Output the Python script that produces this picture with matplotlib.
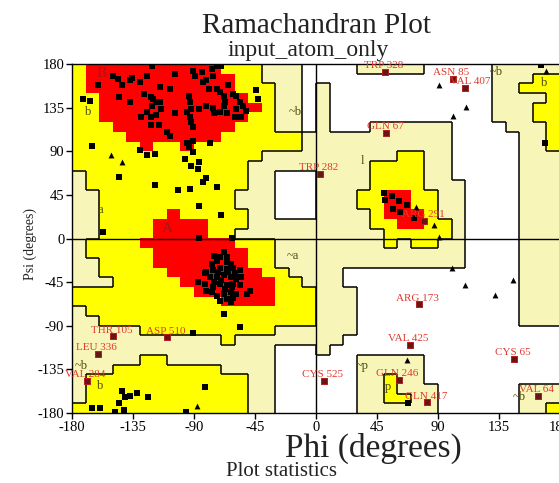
import numpy as np
import matplotlib.pyplot as plt
from matplotlib.collections import LineCollection

plt.rcParams['font.family'] = ['Liberation Serif', 'DejaVu Serif']
plt.rcParams['axes.unicode_minus'] = False

# region map in 10 degree cells, rows from psi 180 down to -180,
# columns from phi -180 to 180, run-length coded
# R core, Y allowed, G generously allowed, W disallowed
region_rows = [
    "Y1 R10 Y3 G3 W4 G5 W5 G5",
    "Y1 R11 Y2 G3 W14 G3 Y2",
    "Y1 R11 Y3 G2 W1 G1 W12 G2 Y3",
    "Y2 R11 Y2 G2 W1 G1 W12 G4 Y1",
    "Y2 R12 Y1 G2 W1 G1 W12 G3 Y2",
    "Y2 R11 Y2 G2 W1 G1 W12 G3 Y2",
    "Y3 R9 Y3 G2 W1 G1 W3 G6 W4 G3 Y1",
    "Y4 R7 Y6 G11 W5 G2 Y1",
    "Y5 R1 Y2 R1 Y8 G11 W5 G2 Y1",
    "Y14 G10 Y2 G2 W5 G3",
    "Y13 G9 Y4 G2 W5 G3",
    "G1 Y12 G2 W3 G4 Y4 G2 W5 G3",
    "G1 Y12 G2 W3 G4 Y4 G3 W4 G3",
    "G2 Y10 G3 W3 G3 Y2 R2 Y2 G2 W4 G3",
    "G2 Y10 G3 W3 G3 Y2 R2 Y2 G2 W4 G3",
    "G2 Y5 R1 Y5 G2 W3 G4 Y1 R3 Y1 G2 W4 G3",
    "G2 Y4 R4 Y3 G9 Y2 R2 Y2 G1 W4 G3",
    "G2 Y4 R4 Y2 G11 Y5 G1 W4 G3",
    "G1 Y4 R7 Y3 G8 Y1 G1 Y2 G2 W4 G3",
    "G1 Y5 R7 Y2 G14 W4 G3",
    "G2 Y4 R7 Y2 G14 W4 G3",
    "G2 Y5 R7 Y2 G4 W13 G3",
    "G3 Y5 R7 Y2 G3 W13 G3",
    "Y9 R6 Y3 G3 W12 G3",
    "Y11 R4 Y3 G3 W12 G3",
    "G1 Y17 G3 W12 G3",
    "G2 Y16 G3 W12 G3",
    "G5 Y10 G6 W15",
    "G11 Y1 G8 W16",
    "G15 W3 G1 W17",
    "G5 Y2 G8 W6 G5 W10",
    "G3 Y8 G4 W6 G5 W10",
    "G1 Y12 G2 W6 G2 Y1 G2 W10",
    "G1 Y12 G2 W6 G2 Y1 G3 W6 G3",
    "G1 Y12 G2 W6 G2 Y2 G2 W6 G3",
    "Y13 G2 W6 G6 W6 G2 Y1",
]
region_colors = {'R': '#ff0000', 'Y': '#ffff00', 'G': '#f8f5b8', 'W': '#ffffff'}

# residues in favoured / allowed regions (black squares)
res_phi = [-150, -146, -143, -137, -136, -130, -125, -121, -115, -104, -108, -91, -89, -84,
           -83, -81, -79, -77, -76, -73, -70, -73, -71, -68, -67, -65, -61, -59, -56, -54,
           -52, -44, -43, -161, -172, -167, -145, -137, -127, -122, -121, -120, -118, -115,
           -114, -125, -129, -122, -118, -116, -122, -110, -108, -104, -94, -93, -92, -93,
           -92, -91, -95, -86, -81, -76, -75, -71, -66, -68, -60, -59, -55, -95, -91, -94,
           -91, -78, -130, -125, -119,
           -165, -97, -92, -87, -86, -145, -119, -102, -93, -83, -81, -73, -86, -70, -157,
           -62, -86,
           -75, -68, -77, -73, -66, -63, -81, -76, -71, -66, -61, -56, -87, -82, -78, -73,
           -68, -63, -59, -55, -81, -76, -71, -66, -61, -56, -51, -73, -68, -63, -59, -66,
           -63, -71, -61, -70, -65, -67, -72, -62, -75, -60, -77, -66, -71, -49, -82,
           -68, -56, -91,
           -82, -143, -137, -132, -141, -124, -145, -165, -159, -148, -142, -96,
           50, 56, 51, 61, 67, 57, 62, 72, 166, 169, 68]
res_psi = [168, 165, 158, 163, 166, 161, 168, 178, 156, 170, 154, 173, 168, 172,
           161, 163, 154, 175, 168, 178, 178, 154, 151, 147, 141, 158, 149, 147, 141, 137,
           132, 153, 144, 158, 144, 142, 146, 141, 149, 146, 137, 144, 141, 141,
           134, 130, 125, 125, 127, 117, 117, 110, 106, 129, 147, 141, 134, 125,
           120, 115, 130, 134, 137, 135, 129, 130, 129, 137, 125, 134, 125, 99, 101, 94,
           89, 98, 91, 86, 87,
           95, 82, 75, 72, 79, 63, 55, 50, 51, 58, 62, 53, 34, 24, 7,
           1, 1,
           -18, -14, -26, -23, -19, -26, -35, -33, -30, -31, -30, -33, -45, -47, -40, -40,
           -38, -40, -42, -40, -54, -50, -47, -48, -47, -48, -57, -59, -57, -55, -57, -62,
           -66, -64, -61, -43, -35, -52, -35, -50, -45, -36, -55, -24, -19, -54, -36,
           -78, -91, -97,
           -153, -157, -162, -159, -163, -163, -170, -175, -175, -179, -177, -179,
           47, 44, 40, 39, 35, 30, 27, 21, 179, 99, -170]

# glycine residues (triangles)
gly_phi = [-151, -143, -88, 91, 111, 101, 74, 87, 91, 170, 100, 110, 132, 145, 67]
gly_psi = [86, 79, -173, 158, 136, 126, 32, 14, 2, 173, -30, -48, -58, -43, -125]

# labelled residues in generous / disallowed regions
out_names = ['TRP 328', 'ASN 85', 'VAL 407', 'GLN 67', 'TRP 282', 'ARG 291', 'ARG 173',
             'VAL 425', 'CYS 65', 'CYS 525', 'GLN 246', 'GLN 417', 'VAL 64', 'THR 105',
             'ASP 510', 'LEU 336', 'VAL 284']
out_phi = [51, 101, 110, 52, 3, 80, 76, 69, 146, 6, 61, 82, 164, -150, -110, -161, -169]
out_psi = [172, 165, 155, 109, 67, 18, -68, -110, -124, -147, -146, -169, -162, -101,
           -102, -119, -147]

# region letters
reg_text = ['B', 'b', '~b', 'a', 'A', '~a', '~b', 'b', 'l', '~b', 'b', '~p', 'p', '~b']
reg_phi = [-158, -168, -15, -159, -110, -17, -173, -159, 34, 133, 168, 34, 53, 150]
reg_psi = [170, 130, 130, 29, 10, -18, -132, -152, 80, 172, 160, -132, -153, -163]


def decode(row):
    cells = []
    for part in row.split():
        cells += [part[0]] * int(part[1:])
    assert len(cells) == 36
    return cells


grid = [decode(r) for r in region_rows]
rgb = np.array([[plt.matplotlib.colors.to_rgb(region_colors[c]) for c in r] for r in grid])

fig = plt.figure(figsize=(5.59, 4.83), dpi=100)
ax = fig.add_axes([72 / 559, 1 - 413 / 483, 488 / 559, 349 / 483])
ax.imshow(rgb, extent=(-180, 180, -180, 180), origin='upper', interpolation='nearest',
          aspect='auto', zorder=0)

# region boundary lines (not around the red core)
segs = []
for i in range(36):
    top = 180 - 10 * i
    for j in range(36):
        a = grid[i][j]
        if j < 35:
            b = grid[i][j + 1]
            if a != b and 'R' not in (a, b):
                x = -180 + 10 * (j + 1)
                segs.append([(x, top - 10), (x, top)])
        if i < 35:
            b = grid[i + 1][j]
            if a != b and 'R' not in (a, b):
                x = -180 + 10 * j
                segs.append([(x, top - 10), (x + 10, top - 10)])
ax.add_collection(LineCollection(segs, colors='black', linewidths=1.1, zorder=1))

ax.axhline(0, color='black', lw=1, zorder=2)
ax.axvline(0, color='black', lw=1, zorder=2)

ax.scatter(res_phi, res_psi, marker='s', s=20, color='black', linewidths=0, zorder=3)
ax.scatter(gly_phi, gly_psi, marker='^', s=18, color='black', linewidths=0, zorder=3)
ax.scatter(out_phi, out_psi, marker='s', s=16, facecolor='#6a1515', edgecolor='#b02020',
           linewidths=0.7, zorder=3)

for name, x, y in zip(out_names, out_phi, out_psi):
    dx = 4 if name == 'VAL 407' else -1
    ax.annotate(name, (x, y), xytext=(dx, 4.5), textcoords='offset points',
                ha='center', va='center', fontsize=8, color='#e03a30', zorder=4,
                annotation_clip=False)

for t, x, y in zip(reg_text, reg_phi, reg_psi):
    col = '#a01818' if t in ('A', 'B') else '#4a4a10'
    size = 11 if t in ('A', 'B') else 9
    ax.text(x, y, t, ha='center', va='center', fontsize=size, color=col, zorder=4)

ax.set_xlim(-180, 180)
ax.set_ylim(-180, 180)
ticks = list(range(-180, 181, 45))
ax.set_xticks(ticks)
ax.set_yticks(ticks)
ax.set_xticklabels([str(t) for t in ticks])
ax.set_yticklabels([str(t) for t in ticks])
ax.tick_params(direction='out', length=4, width=1, labelsize=10.5, pad=1.5, colors='black')
for sp in ax.spines.values():
    sp.set_linewidth(1)

fig.text(316 / 559, 1 - 33 / 483, 'Ramachandran Plot', ha='center', va='baseline',
         fontsize=21, color='#222222')
fig.text(308 / 559, 1 - 56 / 483, 'input_atom_only', ha='center', va='baseline',
         fontsize=17, color='#222222')
fig.text(373 / 559, 1 - 457 / 483, 'Phi (degrees)', ha='center', va='baseline',
         fontsize=24, color='#222222')
fig.text(281 / 559, 1 - 476 / 483, 'Plot statistics', ha='center', va='baseline',
         fontsize=15, color='#222222')
fig.text(30 / 559, 1 - 244 / 483, 'Psi (degrees)', ha='center', va='center',
         rotation=90, fontsize=10, color='#222222')

fig.savefig('out.png', dpi=100)
